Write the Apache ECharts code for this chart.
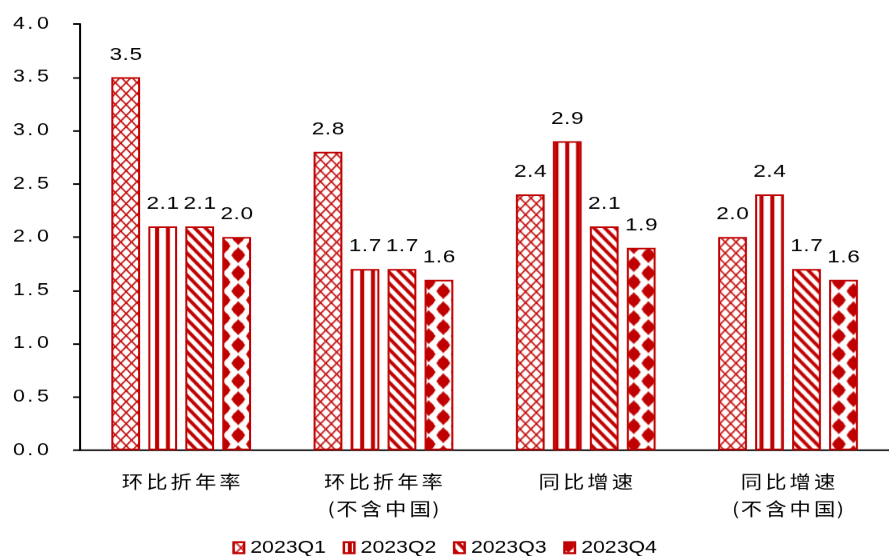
<!DOCTYPE html>
<html>
<head>
<meta charset="utf-8">
<script src="https://cdn.jsdelivr.net/npm/echarts@6/dist/echarts.min.js"></script>
<style>
  html, body { margin: 0; padding: 0; background: #fff; overflow: hidden; }
  /* the chart is laid out 711px wide and widened to 889px on screen */
  #chart { width: 711px; height: 556px; transform: scaleX(1.250352); transform-origin: 0 0; }
</style>
</head>
<body>
<div id="chart"></div>
<script>
// ---- data ----
const categories = ['环比折年率', '环比折年率\n(不含中国)', '同比增速', '同比增速\n(不含中国)'];
const seriesNames = ['2023Q1', '2023Q2', '2023Q3', '2023Q4'];
const q1 = [3.5, 2.8, 2.4, 2.0];
const q2 = [2.1, 1.7, 2.9, 2.4];
const q3 = [2.1, 1.7, 2.1, 1.7];
const q4 = [2.0, 1.6, 1.9, 1.6];
const Y_MIN = 0, Y_MAX = 4, Y_STEP = 0.5;

// ---- style ----
const RED = '#C00000';
const NUM_FONT = '"Liberation Sans", Arial, sans-serif';
const CJK_FONT = '"Noto Sans CJK SC", sans-serif';
const TILE_W = 205;            // one category wide, in screen pixels
const TILE_SX = 164 / 205;     // screen pixels -> layout units

function makeTile(w, h, paint) {
  const c = document.createElement('canvas');
  c.width = w; c.height = h;
  const g = c.getContext('2d');
  g.fillStyle = '#fff';
  g.fillRect(0, 0, w, h);
  g.fillStyle = RED;
  g.strokeStyle = RED;
  paint(g, w, h);
  return c;
}

// cross-hatched lattice
const latticeTile = makeTile(TILE_W, 11, (g, w, h) => {
  const P = w / 19, ph = 2;
  g.lineWidth = 1.4;
  for (let k = -3; k <= 22; k++) {
    const x0 = ph + k * P;
    g.beginPath(); g.moveTo(x0, 0); g.lineTo(x0 + P, h); g.stroke();
    g.beginPath(); g.moveTo(x0 + P, 0); g.lineTo(x0, h); g.stroke();
  }
});

// vertical stripes
const stripeTile = makeTile(TILE_W, 4, (g, w, h) => {
  const P = w / 19, ph = 3.9, sw = 4;
  for (let k = -1; k <= 19; k++) g.fillRect(ph + k * P, 0, sw, h);
});

// diagonal stripes
const diagTile = makeTile(TILE_W, 11, (g, w, h) => {
  const P = w / 19, ph = 1, sw = 4.8;
  for (let k = -3; k <= 21; k++) {
    const x0 = ph + k * P;
    g.beginPath();
    g.moveTo(x0, 0); g.lineTo(x0 + sw, 0);
    g.lineTo(x0 + sw + P, h); g.lineTo(x0 + P, h);
    g.closePath(); g.fill();
  }
});

// staggered rounded diamonds
const dotTile = makeTile(TILE_W, 18, (g, w, h) => {
  const Q = w / 14, ph = 3.8;
  const blob = (cx, cy) => {
    g.beginPath();
    g.moveTo(cx, cy - 8); g.lineTo(cx + 7, cy); g.lineTo(cx, cy + 8); g.lineTo(cx - 7, cy);
    g.closePath(); g.fill();
    g.beginPath(); g.arc(cx, cy, 5.8, 0, Math.PI * 2); g.fill();
  };
  for (let k = -1; k <= 15; k++) {
    const cx = ph + k * Q;
    const cy = (k % 2 === 0) ? 3 : 12;
    for (const dy of [-h, 0, h]) blob(cx, cy + dy);
  }
});

const pattern = img => ({ image: img, repeat: 'repeat', scaleX: TILE_SX, scaleY: 1 });
const fills = [latticeTile, stripeTile, diagTile, dotTile].map(pattern);
const values = [q1, q2, q3, q4];

// digits with a widened point, e.g. "2. 1"
function numRich(str) {
  return str.split('').map(ch => ch === '.' ? '{p|.}' : '{d|' + ch + '}').join('');
}
const axisNum = { fontFamily: NUM_FONT, fontSize: 17, color: '#000' };
const axisRich = { d: axisNum, p: Object.assign({}, axisNum, { padding: [0, 3, 0, 2] }) };
const valNum = { fontFamily: NUM_FONT, fontSize: 18, color: '#000' };
const valRich = { d: valNum, p: Object.assign({}, valNum, { padding: [0, 0.5, 0, 0.5] }) };

// category names with widened character spacing
function catRich(str) {
  return str.split('\n').map(line =>
    line.split('').map(ch => (ch === '(' || ch === ')') ? '{q|' + ch + '}' : '{c|' + ch + '}').join('')
  ).join('\n');
}
const catStyle = { fontFamily: CJK_FONT, fontSize: 17, color: '#000', lineHeight: 27 };

const chart = echarts.init(document.getElementById('chart'), null, { renderer: 'canvas', devicePixelRatio: 1.2505 });

chart.setOption({
  animation: false,
  backgroundColor: '#fff',
  grid: { left: 64, top: 24, width: 656, height: 426, containLabel: false },
  legend: {
    data: seriesNames,
    left: 'center',
    top: 539,
    padding: 0,
    itemWidth: 8.4,
    itemHeight: 11,
    itemGap: 13.3,
    icon: 'rect',
    selectedMode: false,
    textStyle: { fontFamily: NUM_FONT, fontSize: 17, color: '#000' }
  },
  xAxis: {
    type: 'category',
    data: categories,
    axisLine: { lineStyle: { color: '#000', width: 1.6 } },
    axisTick: { show: false },
    axisLabel: {
      interval: 0,
      margin: 18,
      formatter: v => catRich(v),
      rich: {
        c: Object.assign({}, catStyle, { padding: [0, 1.25, 0, 1.25] }),
        q: catStyle
      }
    }
  },
  yAxis: {
    type: 'value',
    min: Y_MIN,
    max: Y_MAX,
    interval: Y_STEP,
    axisLine: { show: true, lineStyle: { color: '#000', width: 1.6 } },
    axisTick: { show: true, length: 5.6, lineStyle: { color: '#000', width: 1.6 } },
    splitLine: { show: false },
    axisLabel: {
      margin: 25,
      formatter: v => numRich(v.toFixed(1)),
      rich: axisRich
    }
  },
  series: seriesNames.map((name, i) => ({
    name,
    type: 'bar',
    data: values[i],
    barWidth: 23,
    barGap: '28.6%',
    silent: true,
    itemStyle: { color: fills[i], borderColor: RED, borderWidth: 1.6 },
    emphasis: { disabled: true },
    label: {
      show: true,
      position: 'top',
      distance: 13.5,
      formatter: p => numRich(p.value.toFixed(1)),
      rich: valRich
    }
  }))
});
</script>
</body>
</html>
